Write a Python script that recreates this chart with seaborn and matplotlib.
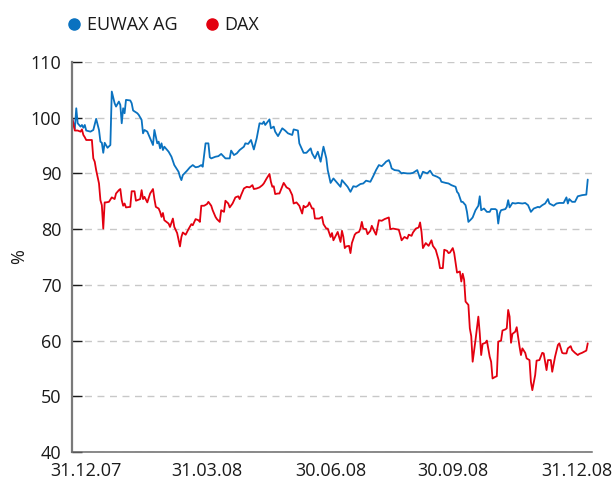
import matplotlib
matplotlib.use("Agg")
import matplotlib.pyplot as plt
import matplotlib.transforms as mtransforms
from matplotlib.lines import Line2D
import seaborn as sns
import pandas as pd
import numpy as np

# ---------------- data ----------------
start_date = "2007-12-31"
series_names = ["EUWAX AG", "DAX"]
colors = ["#0a72c0", "#e3000f"]

euwax_days = [0, 2, 3, 4, 6, 7, 8, 9, 10, 13, 15, 17, 19, 20, 21, 22, 23, 25, 27, 28,
              30, 31, 33, 34, 35, 36, 37, 38, 41, 42, 43, 46, 47, 49, 50, 51, 53, 55, 57, 58,
              60, 61, 62, 63, 64, 65, 68, 70, 72, 75, 76, 77, 78, 81, 83, 85, 87, 89, 91, 92,
              94, 96, 97, 98, 101, 103, 105, 108, 111, 112, 114, 116, 118, 121, 122, 124, 126, 128, 130, 132,
              134, 135, 136, 139, 140, 142, 143, 145, 148, 150, 152, 155, 156, 159, 160, 163, 165, 168, 169, 171,
              173, 175, 177, 179, 180, 182, 184, 186, 189, 190, 192, 194, 196, 198, 200, 203, 205, 207, 210, 212,
              214, 216, 218, 220, 221, 223, 224, 225, 227, 230, 232, 233, 236, 238, 240, 243, 245, 247, 250, 252,
              254, 257, 259, 260, 263, 265, 267, 270, 271, 272, 274, 275, 277, 278, 279, 281, 282, 284, 286, 287,
              288, 290, 292, 294, 295, 298, 299, 300, 301, 302, 305, 306, 307, 308, 310, 312, 314, 317, 319, 321,
              323, 325, 328, 329, 331, 333, 335, 336, 339, 341, 343, 346, 348, 349, 350, 352, 354, 356, 359, 362,
              363]
euwax_values = [100.0, 98.0, 101.7, 99.0, 98.4, 98.7, 98.2, 98.7, 97.7, 97.5, 97.8, 99.8, 97.8, 95.7, 95.5, 93.7, 95.5, 94.6, 95.1, 104.7,
                102.6, 102.0, 102.9, 102.3, 99.0, 101.7, 100.8, 103.2, 103.1, 102.6, 101.3, 100.8, 100.5, 99.6, 97.2, 97.8, 97.5, 96.3, 95.1, 97.8,
                95.4, 95.7, 94.5, 95.4, 94.2, 94.8, 93.9, 93.0, 91.5, 90.3, 89.4, 88.8, 89.7, 90.5, 91.1, 91.5, 91.1, 91.2, 91.5, 91.2,
                95.4, 95.4, 92.9, 92.7, 93.0, 93.1, 93.5, 92.7, 92.7, 94.1, 93.3, 93.6, 94.2, 94.8, 95.4, 95.3, 96.0, 94.3, 96.3, 99.0,
                98.9, 99.3, 98.7, 99.7, 98.1, 98.4, 97.5, 96.7, 98.1, 97.7, 97.2, 96.9, 97.9, 97.7, 95.4, 93.7, 93.7, 94.5, 93.6, 92.7,
                93.9, 92.1, 94.8, 92.7, 90.6, 88.3, 89.1, 88.5, 87.6, 88.8, 88.2, 87.6, 86.7, 87.7, 87.6, 88.1, 88.2, 88.7, 88.5, 89.5,
                90.6, 91.5, 91.3, 91.8, 92.1, 92.4, 91.8, 90.9, 90.6, 90.5, 90.0, 90.1, 90.0, 90.0, 90.1, 90.6, 89.1, 90.3, 90.0, 90.5,
                89.7, 89.4, 89.1, 88.5, 88.3, 88.2, 87.9, 87.6, 86.7, 86.4, 84.9, 84.9, 84.3, 83.1, 81.3, 81.8, 82.1, 83.4, 84.2, 85.9,
                83.4, 83.7, 83.1, 83.1, 83.6, 83.6, 83.4, 81.0, 82.8, 83.4, 83.6, 84.0, 85.2, 83.9, 84.7, 84.6, 84.7, 84.6, 84.7, 84.3,
                83.1, 83.7, 84.0, 83.9, 84.3, 84.6, 85.4, 84.6, 84.2, 84.6, 84.7, 84.7, 85.7, 84.6, 85.4, 84.9, 84.9, 85.9, 86.1, 86.2,
                88.9]

dax_days = [0, 2, 4, 6, 7, 8, 9, 10, 13, 14, 15, 16, 17, 19, 20, 21, 22, 23, 24, 26,
            28, 30, 31, 33, 34, 35, 36, 37, 38, 41, 42, 44, 45, 46, 48, 49, 50, 51, 53, 55,
            57, 58, 59, 61, 62, 63, 64, 65, 68, 69, 71, 72, 74, 76, 77, 78, 80, 82, 84, 85,
            87, 89, 90, 91, 93, 95, 96, 98, 99, 101, 102, 104, 105, 107, 108, 110, 111, 113, 115, 117,
            118, 119, 121, 123, 125, 127, 128, 130, 132, 134, 135, 137, 139, 140, 141, 142, 143, 145, 146, 148,
            149, 151, 153, 155, 156, 158, 160, 162, 163, 164, 166, 167, 169, 170, 171, 173, 174, 176, 177, 179,
            180, 182, 183, 184, 186, 187, 189, 190, 191, 192, 193, 195, 196, 197, 199, 200, 202, 203, 204, 205,
            207, 208, 210, 211, 213, 214, 216, 218, 220, 221, 223, 224, 226, 228, 230, 231, 232, 234, 236, 237,
            239, 240, 242, 244, 245, 246, 247, 249, 251, 253, 254, 256, 258, 259, 261, 262, 264, 265, 266, 268,
            269, 270, 271, 273, 274, 275, 276, 277, 279, 280, 281, 282, 284, 286, 287, 288, 289, 291, 292, 294,
            295, 296, 298, 299, 300, 302, 303, 305, 306, 307, 308, 309, 310, 312, 313, 315, 316, 317, 319, 320,
            322, 323, 324, 326, 327, 329, 331, 332, 334, 335, 337, 338, 340, 342, 343, 345, 346, 348, 349, 351,
            352, 354, 356, 357, 359, 362, 363]
dax_values = [100.0, 97.7, 97.7, 97.5, 97.9, 96.9, 96.5, 96.0, 96.0, 96.0, 92.7, 92.1, 90.6, 88.2, 85.2, 84.3, 80.1, 84.8, 84.8, 84.9,
              85.7, 85.4, 86.4, 87.0, 87.2, 85.2, 84.2, 84.6, 83.9, 84.0, 86.8, 86.8, 85.1, 85.2, 85.4, 87.0, 85.4, 85.8, 84.8, 86.4,
              87.2, 85.4, 84.0, 83.7, 83.1, 82.2, 82.9, 81.6, 81.0, 80.4, 81.9, 80.4, 79.3, 76.9, 78.6, 79.4, 79.0, 80.0, 80.9, 80.7,
              81.8, 81.6, 81.3, 84.2, 84.2, 84.5, 84.9, 84.2, 83.4, 82.2, 81.8, 81.3, 83.4, 83.1, 85.1, 84.6, 83.9, 84.6, 85.7, 85.9,
              85.4, 86.1, 87.3, 87.6, 87.5, 87.9, 87.2, 87.3, 87.5, 87.9, 88.2, 89.1, 89.9, 88.5, 87.6, 87.7, 86.3, 86.4, 86.4, 87.7,
              88.3, 87.5, 87.2, 86.1, 84.6, 84.8, 84.2, 82.8, 84.2, 83.9, 84.2, 84.8, 83.7, 83.7, 81.9, 81.9, 81.9, 82.2, 80.9, 80.1,
              80.1, 78.6, 79.3, 78.0, 79.0, 79.5, 77.7, 79.7, 78.6, 76.6, 76.9, 77.0, 75.7, 77.5, 79.0, 79.3, 79.5, 80.1, 81.3, 80.1,
              80.0, 79.1, 79.7, 80.6, 79.5, 79.0, 81.6, 81.5, 81.8, 81.9, 82.1, 80.0, 80.1, 80.0, 79.9, 79.0, 78.0, 78.6, 78.3, 79.0,
              78.8, 79.4, 80.1, 80.3, 81.2, 79.5, 76.6, 77.5, 77.0, 78.0, 77.0, 76.3, 74.5, 73.0, 73.0, 76.3, 76.1, 75.7, 75.8, 76.6,
              75.7, 73.9, 72.2, 72.4, 70.6, 72.0, 70.9, 67.0, 66.4, 62.2, 60.8, 56.2, 60.1, 64.3, 61.3, 57.4, 59.4, 59.6, 60.0, 57.1,
              56.2, 53.2, 53.5, 53.6, 59.8, 60.0, 61.8, 62.0, 62.2, 65.5, 64.3, 59.6, 61.2, 61.6, 62.4, 58.9, 57.4, 58.6, 57.8, 56.8,
              56.5, 52.6, 51.1, 53.8, 56.4, 56.5, 57.8, 57.7, 54.7, 56.5, 56.5, 54.4, 57.1, 59.2, 59.5, 57.8, 57.7, 57.7, 58.6, 59.0,
              58.3, 57.8, 57.4, 57.6, 57.8, 58.2, 59.5]

x_tick_dates = ["2007-12-31", "2008-03-31", "2008-06-30", "2008-09-30", "2008-12-31"]
x_tick_labels = ["31.12.07", "31.03.08", "30.06.08", "30.09.08", "31.12.08"]
y_ticks = [40, 50, 60, 70, 80, 90, 100, 110]
y_label = "%"

# ---------------- build table ----------------
t0 = pd.Timestamp(start_date)
df = pd.concat([
    pd.DataFrame({"date": t0 + pd.to_timedelta(euwax_days, unit="D"),
                  "value": euwax_values, "series": series_names[0]}),
    pd.DataFrame({"date": t0 + pd.to_timedelta(dax_days, unit="D"),
                  "value": dax_values, "series": series_names[1]}),
], ignore_index=True)

# ---------------- style ----------------
sns.set_theme(style="white")
plt.rcParams["font.family"] = ["Open Sans", "DejaVu Sans"]
plt.rcParams["text.color"] = "#1a1a1a"

W, H = 616, 479
fig = plt.figure(figsize=(W / 100, H / 100), dpi=100)
ax = fig.add_axes([72 / W, 1 - 452 / H, (592 - 72) / W, (452 - 62) / H])

sns.lineplot(data=df, x="date", y="value", hue="series",
             hue_order=series_names, palette=dict(zip(series_names, colors)),
             linewidth=1.3, ax=ax, legend=False, estimator=None)

ax.set_xlim(pd.Timestamp(x_tick_dates[0]), pd.Timestamp(x_tick_dates[-1]))
ax.set_ylim(y_ticks[0], y_ticks[-1])
ax.set_yticks(y_ticks)
ax.set_xticks([pd.Timestamp(d) for d in x_tick_dates])
ax.set_xticklabels(x_tick_labels)
ax.set_xlabel("")
ax.set_ylabel(y_label, fontsize=13, labelpad=2, color="#1a1a1a")

ax.yaxis.grid(True, linestyle=(0, (5, 4)), color="#c8c8c8", linewidth=1)
ax.xaxis.grid(False)
ax.set_axisbelow(True)

for s in ["top", "right"]:
    ax.spines[s].set_visible(False)
ax.spines["left"].set_color("#7a7a7a")
ax.spines["left"].set_linewidth(1.6)
ax.spines["bottom"].set_color("#6a6a6a")
ax.spines["bottom"].set_linewidth(1.1)

ax.tick_params(axis="y", direction="in", length=7, width=1, color="#1a1a1a",
               labelsize=13, pad=7.5, labelcolor="#1a1a1a", left=True)
ax.tick_params(axis="x", length=0, labelsize=13, pad=7, labelcolor="#1a1a1a", bottom=True)

# shift x labels to match the reference's evenly spread labels
label_shift_px = [14, 6, 0, -8, -15]
for lab, dx in zip(ax.get_xticklabels(), label_shift_px):
    lab.set_transform(lab.get_transform() + mtransforms.ScaledTranslation(dx / 100, 0, fig.dpi_scale_trans))

# legend
handles = [Line2D([], [], linestyle="none", marker="o", markersize=8,
                  markerfacecolor=c, markeredgecolor=c) for c in colors]
fig.legend(handles, series_names, loc="center left",
           bbox_to_anchor=(68 / W, 1 - 25 / H), ncol=2, frameon=False,
           fontsize=13, handlelength=0.7, handletextpad=0.35, columnspacing=1.55,
           borderpad=0, borderaxespad=0)

fig.savefig("out.png", dpi=100)
